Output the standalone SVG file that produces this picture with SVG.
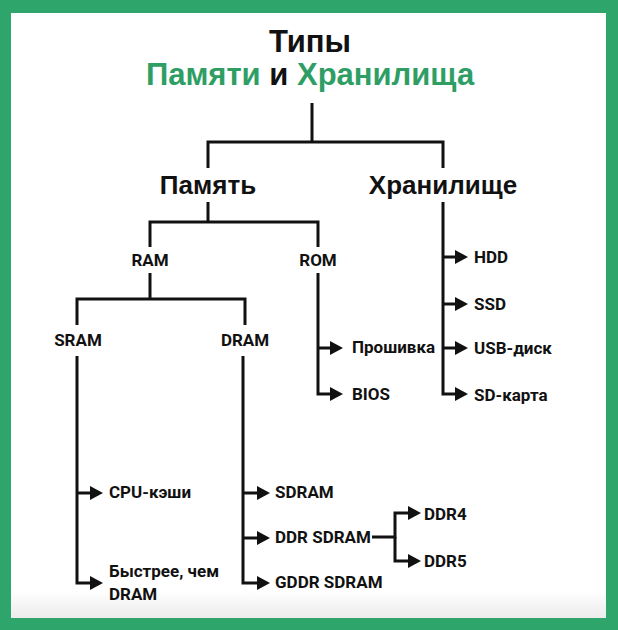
<svg xmlns="http://www.w3.org/2000/svg" width="618" height="630" viewBox="0 0 618 630">
<style>
.t{font-family:"Liberation Sans",Arial,sans-serif;font-weight:700}
.h{font-family:"Liberation Sans",Arial,sans-serif;font-weight:700;font-size:26px;fill:#111;text-anchor:middle}
.l{font-family:Roboto,"Liberation Sans",sans-serif;font-weight:700;font-size:17px;fill:#111}
.c{text-anchor:middle}
.ln{fill:none;stroke:#111;stroke-width:3}
.ar{fill:none;stroke:#111;stroke-width:3;marker-end:url(#a)}
</style>
<defs>
<marker id="a" markerUnits="userSpaceOnUse" viewBox="0 0 13 14" refX="0" refY="7" markerWidth="13" markerHeight="14" orient="auto"><path d="M0,0 L13,7 L0,14 Z" fill="#111"/></marker>
<linearGradient id="fade" x1="0" y1="0" x2="0" y2="1"><stop offset="0" stop-color="#fff"/><stop offset="1" stop-color="#ececec"/></linearGradient>
</defs>
<rect width="618" height="630" fill="#2ea66b"/>
<rect x="11" y="13" width="595" height="605" fill="#fff"/>
<rect x="11" y="590" width="595" height="28" fill="url(#fade)"/>
<g id="title">
<text class="t" x="310" y="52" font-size="31" text-anchor="middle" fill="#111">Типы</text>
<text class="t" x="310" y="85" font-size="31" text-anchor="middle" fill="#2e9e65">Памяти <tspan fill="#111">и</tspan> Хранилища</text>
</g>
<g id="connectors">
<path class="ln" d="M312,103 V142 M208,168 V142 H443 V168"/>
<path class="ln" d="M208,202 V222 M150,247 V222 H318 V247"/>
<path class="ln" d="M150,273 V299 M77,325 V299 H245 V325"/>
<path class="ar" d="M77,356 V583 H90"/>
<path class="ar" d="M77,493 H90"/>
<path class="ar" d="M243,356 V583 H257"/>
<path class="ar" d="M243,493 H257"/>
<path class="ar" d="M243,538 H257"/>
<path class="ar" d="M318,273 V394 H330"/>
<path class="ar" d="M318,348 H330"/>
<path class="ar" d="M443,202 V394 H455"/>
<path class="ar" d="M443,257 H455"/>
<path class="ar" d="M443,304 H455"/>
<path class="ar" d="M443,348 H455"/>
<path class="ar" d="M372,537 H395 V513 H408"/>
<path class="ar" d="M395,537 V561 H408"/>
</g>
<g id="pamyat"><text class="h" x="208" y="194">Память</text></g>
<g id="hranilishche"><text class="h" x="443" y="194">Хранилище</text></g>
<g id="ram"><text class="l c" x="150" y="266">RAM</text></g>
<g id="rom"><text class="l c" x="318" y="266">ROM</text></g>
<g id="sram"><text class="l c" x="78" y="346">SRAM</text></g>
<g id="dram"><text class="l c" x="245" y="346">DRAM</text></g>
<g id="cpu"><text class="l" x="109" y="498">CPU-кэши</text></g>
<g id="faster"><text class="l" x="109" y="577">Быстрее, чем</text><text class="l" x="109" y="600">DRAM</text></g>
<g id="sdram"><text class="l" x="275" y="498">SDRAM</text></g>
<g id="ddrsdram"><text class="l" x="275" y="543">DDR SDRAM</text></g>
<g id="gddr"><text class="l" x="275" y="588">GDDR SDRAM</text></g>
<g id="ddr4"><text class="l" x="424" y="520">DDR4</text></g>
<g id="ddr5"><text class="l" x="424" y="567">DDR5</text></g>
<g id="firmware"><text class="l" x="352" y="353" font-size="15">Прошивка</text></g>
<g id="bios"><text class="l" x="352" y="400">BIOS</text></g>
<g id="hdd"><text class="l" x="474" y="263">HDD</text></g>
<g id="ssd"><text class="l" x="474" y="310">SSD</text></g>
<g id="usb"><text class="l" x="474" y="354">USB-диск</text></g>
<g id="sd"><text class="l" x="474" y="401">SD-карта</text></g>
</svg>
